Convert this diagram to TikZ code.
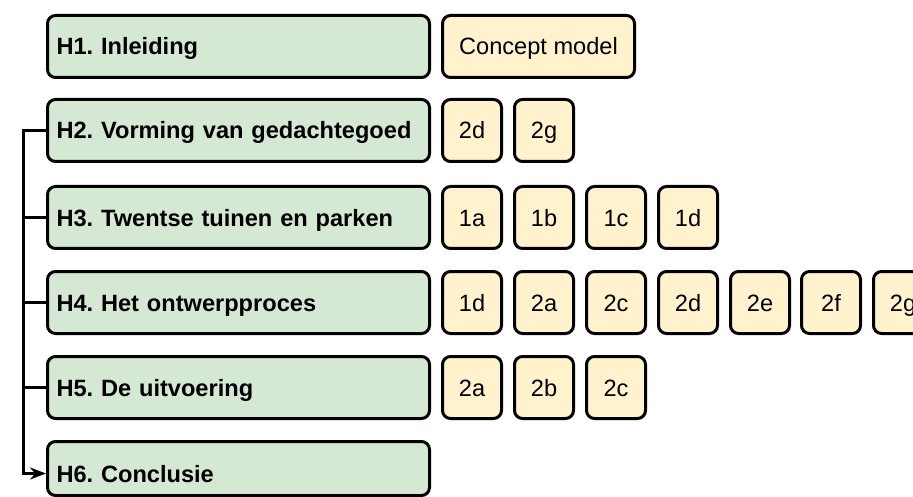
\documentclass[tikz,border=0pt]{standalone}
\usepackage{fontspec}
\setmainfont{Liberation Sans}
\usetikzlibrary{arrows.meta}
\definecolor{greenfill}{HTML}{D5E8D4}
\definecolor{yellowfill}{HTML}{FFF2CC}
\frenchspacing
\begin{document}
\begin{tikzpicture}[x=1pt,y=-1pt,
  box/.style={draw=black, line width=3pt, rounded corners=8pt, anchor=north west,
    minimum height=62pt, inner sep=0pt, text depth=0pt, text height=17pt,
    font=\fontsize{23.6}{28}\selectfont},
  chapter/.style={box, fill=greenfill, minimum width=382pt, text width=364pt, align=left,
    font=\bfseries\fontsize{23.6}{28}\selectfont},
  item/.style={box, fill=yellowfill, minimum width=59pt},
  conn/.style={line width=3pt}]
\useasboundingbox (0,0) rectangle (913,497);

% chapters
\node[chapter] (H1) at (46,14)  {H1. Inleiding};
\node[chapter] (H2) at (46,98)  {H2. Vorming van gedachtegoed};
\node[chapter] (H3) at (46,185) {H3. Twentse tuinen en parken};
\node[chapter] (H4) at (46,270) {H4. Het ontwerpproces};
\node[chapter] (H5) at (46,355) {H5. De uitvoering};
\node[chapter, minimum height=54pt, text height=27pt] (H6) at (46,440) {H6. Conclusie};

% row 1
\node[box, fill=yellowfill, minimum width=192pt] (cm) at (441,14) {Concept model};
% row 2
\node[item] (r2a) at (441,98) {2d};
\node[item] (r2b) at (513,98) {2g};
% row 3
\node[item] (r3a) at (441,185) {1a};
\node[item] (r3b) at (513,185) {1b};
\node[item] (r3c) at (585,185) {1c};
\node[item] (r3d) at (657,185) {1d};
% row 4
\node[item] (r4a) at (441,270) {1d};
\node[item] (r4b) at (513,270) {2a};
\node[item] (r4c) at (585,270) {2c};
\node[item] (r4d) at (657,270) {2d};
\node[item] (r4e) at (729,270) {2e};
\node[item] (r4f) at (800,270) {2f};
\node[item] (r4g) at (872,270) {2g};
% row 5
\node[item] (r5a) at (441,355) {2a};
\node[item] (r5b) at (513,355) {2b};
\node[item] (r5c) at (585,355) {2c};

% connectors
\draw[conn, -{Stealth[length=16pt,width=12pt]}] (H2.west) -- ++(-23,0) |- ([yshift=-5pt]H6.west);
\draw[conn] (H3.west) -- ++(-23,0);
\draw[conn] (H4.west) -- ++(-23,0);
\draw[conn] (H5.west) -- ++(-23,0);
\end{tikzpicture}
\end{document}
